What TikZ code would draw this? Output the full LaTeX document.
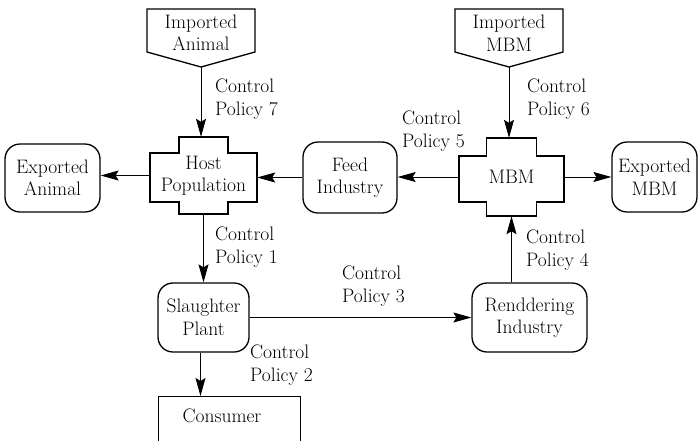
\documentclass[tikz,border=0pt]{standalone}
\usetikzlibrary{arrows.meta,calc}
\begin{document}
\begin{tikzpicture}[x=1pt,y=-1pt,
  every node/.style={font=\fontsize{19.5}{22.5}\selectfont, align=center, inner sep=0pt},
  boxline/.style={line width=1.3pt},
  rbox/.style={draw, boxline, rounded corners=15pt},
  ghost/.style={rectangle},
  lbl/.style={anchor=west, align=left},
  flow/.style={line width=0.9pt, -{Stealth[length=18pt,width=10pt,inset=3pt]}}]
\clip (0,0) rectangle (700,440);
\useasboundingbox (0,0) rectangle (700,440);
% imported (pentagon) boxes
\node[ghost, minimum width=108pt, minimum height=58pt] (ia) at (201,38) {};
\node[ghost, minimum width=110pt, minimum height=58pt] (im) at (509,38) {};
\foreach \n in {ia,im}{
  \draw[boxline, shift={(\n.center)}] (-54,-29) -- (54,-29) -- (54,14) -- (0,29) -- (-54,14) -- cycle;
}
\node (ia-t) at (201,33) {Imported\\Animal};
\node (im-t) at (509,33) {Imported\\MBM};
% cross shapes
\node[ghost, minimum width=107pt, minimum height=77pt] (host) at (203.5,175.5) {Host\\Population};
\draw[boxline, shift={(host.center)}] (-24.5,-38.5) -- (24.5,-38.5) -- (24.5,-22.5) -- (53.5,-22.5) -- (53.5,26.5) -- (24.5,26.5) -- (24.5,38.5) -- (-24.5,38.5) -- (-24.5,26.5) -- (-53.5,26.5) -- (-53.5,-22.5) -- (-24.5,-22.5) -- cycle;
\node[ghost, minimum width=105pt, minimum height=78pt] (mbm) at (511.5,177) {MBM};
\draw[boxline, shift={(mbm.center)}] (-25,-39) -- (25,-39) -- (25,-21) -- (52.5,-21) -- (52.5,25) -- (25,25) -- (25,39) -- (-25,39) -- (-25,25) -- (-52.5,25) -- (-52.5,-21) -- (-25,-21) -- cycle;
% rounded boxes
\node[rbox, minimum width=95pt, minimum height=68pt] (expa) at (52.5,178) {Exported\\Animal};
\node[rbox, minimum width=94pt, minimum height=71pt] (feed) at (350,177.5) {Feed\\Industry};
\node[rbox, minimum width=85pt, minimum height=70pt] (expm) at (654.5,177) {Exported\\MBM};
\node[rbox, minimum width=91pt, minimum height=69pt] (sl) at (203.5,317.5) {Slaughter\\Plant};
\node[rbox, minimum width=115pt, minimum height=69pt] (rend) at (529.5,317.5) {Renddering\\Industry};
% consumer
\node[draw, boxline, anchor=north west, minimum width=142pt, minimum height=80pt] (cons) at (158,396) {};
\node (cons-t) at (222,416) {Consumer};
% connectors
\draw[flow] (ia.south) -- (ia.south |- host.north);
\draw[flow] (im.south) -- (im.south |- mbm.north);
\draw[flow] (host.west) -- (host.west -| expa.east);
\draw[flow] (feed.west) -- (feed.west -| host.east);
\draw[flow] (mbm.west) -- (mbm.west -| feed.east);
\draw[flow] (mbm.east) -- (mbm.east -| expm.west);
\draw[flow] (host.south) -- (host.south |- sl.north);
\draw[flow] (sl.east) -- (sl.east -| rend.west);
\draw[flow] (mbm.south |- rend.north) -- (mbm.south);
\draw[flow] ([xshift=-3pt]sl.south) -- ([xshift=-3pt]sl.south |- cons.north);
% labels
\node[lbl] (cp7) at (215,99) {Control\\Policy 7};
\node[lbl] (cp6) at (527,99) {Control\\Policy 6};
\node[lbl] (cp5) at (402,131) {Control\\Policy 5};
\node[lbl] (cp1) at (215,247) {Control\\Policy 1};
\node[lbl] (cp3) at (342,286) {Control\\Policy 3};
\node[lbl] (cp4) at (526,250) {Control\\Policy 4};
\node[lbl] (cp2) at (250,365) {Control\\Policy 2};
\end{tikzpicture}
\end{document}
